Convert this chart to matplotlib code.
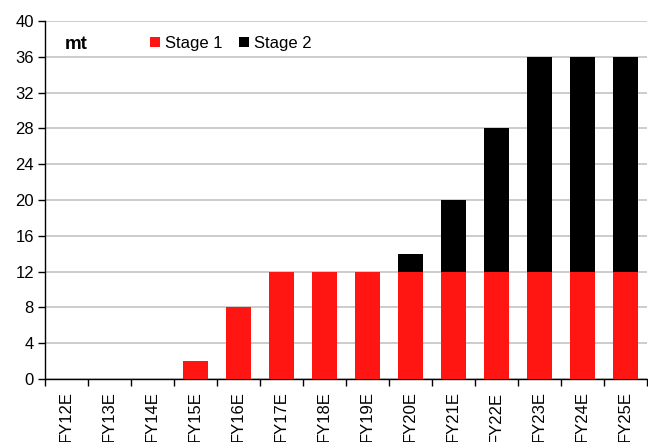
import numpy as np
import matplotlib.pyplot as plt

plt.rcParams['font.family'] = ['Liberation Sans', 'DejaVu Sans']

years = ["FY12E", "FY13E", "FY14E", "FY15E", "FY16E", "FY17E", "FY18E",
         "FY19E", "FY20E", "FY21E", "FY22E", "FY23E", "FY24E", "FY25E"]
stage1 = [0, 0, 0, 2, 8, 12, 12, 12, 12, 12, 12, 12, 12, 12]
stage2 = [0, 0, 0, 0, 0, 0, 0, 0, 2, 8, 16, 24, 24, 24]
yticks = np.arange(0, 41, 4)

fig = plt.figure(figsize=(6.48, 4.42), dpi=100)
ax = fig.add_axes([45 / 648, 1 - 379 / 442, 602 / 648, 358 / 442])

x = np.arange(len(years))
ax.bar(x, stage1, width=0.6, color="#FF1612", label="Stage 1", zorder=3)
ax.bar(x, stage2, width=0.6, bottom=stage1, color="black", label="Stage 2", zorder=3)

ax.set_xlim(-0.5, len(years) - 0.5)
ax.set_ylim(0, 40)
ax.set_yticks(yticks)
ax.set_yticklabels([str(v) for v in yticks], fontsize=12)
ax.grid(axis="y", color="#C8C8C8", linewidth=1.3, zorder=0)

ax.set_xticks(x)
ax.set_xticklabels(years, rotation=90, fontsize=12, va="top")
ax.tick_params(axis="x", which="major", length=0, pad=9)
ax.set_xticks(np.arange(len(years) + 1) - 0.5, minor=True)
ax.tick_params(axis="x", which="minor", length=5, width=1, color="black")
ax.tick_params(axis="y", length=5, width=1, pad=3)

for s in ["top", "right"]:
    ax.spines[s].set_visible(False)
ax.spines["left"].set_linewidth(1)
ax.spines["bottom"].set_linewidth(1)

ax.text(0.032, 0.935, "mt", transform=ax.transAxes, fontsize=13.5,
        fontweight="bold", va="center", ha="left")
ax.legend(loc="upper left", bbox_to_anchor=(0.15, 1.0), ncol=2, frameon=False,
          fontsize=12, handlelength=0.6, handleheight=0.6, handletextpad=0.3,
          columnspacing=1.0)

fig.savefig("out.png", dpi=100)
